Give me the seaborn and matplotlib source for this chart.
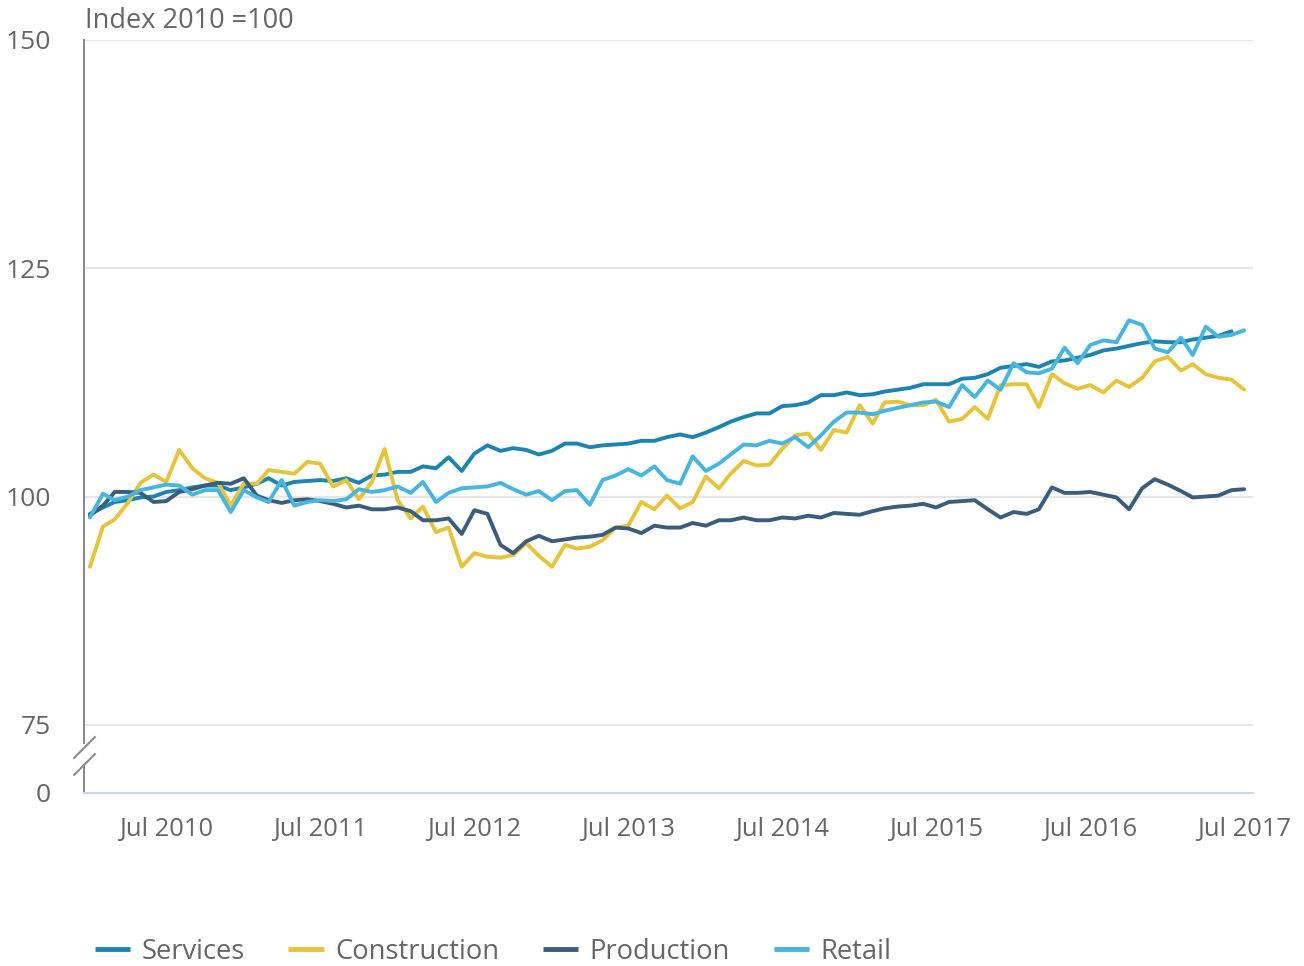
import numpy as np
import pandas as pd
import seaborn as sns
import matplotlib.pyplot as plt
import matplotlib.dates as mdates
from matplotlib.lines import Line2D

# monthly index values, Jan 2010 - Jul 2017 (2010 = 100)
months = pd.date_range("2010-01-01", "2017-07-01", freq="MS")

services = [98.1, 98.8, 99.4, 99.6, 99.9, 100.0, 100.5, 100.7, 101.0, 101.2, 101.2, 100.7,
            101.0, 101.4, 102.0, 101.2, 101.6, 101.7, 101.8, 101.7, 102.0, 101.5, 102.3, 102.4,
            102.7, 102.7, 103.3, 103.1, 104.3, 102.8, 104.7, 105.6, 105.0, 105.3, 105.1, 104.6,
            105.0, 105.8, 105.8, 105.4, 105.6, 105.7, 105.8, 106.1, 106.1, 106.5, 106.8, 106.5,
            107.0, 107.6, 108.2, 108.7, 109.1, 109.1, 109.9, 110.0, 110.3, 111.1, 111.1, 111.4,
            111.1, 111.2, 111.5, 111.7, 111.9, 112.3, 112.3, 112.3, 112.9, 113.0, 113.4, 114.1,
            114.3, 114.5, 114.2, 114.8, 114.9, 115.2, 115.5, 116.0, 116.2, 116.5, 116.8, 117.0,
            116.9, 116.9, 117.2, 117.4, 117.6, 118.1, np.nan]
construction = [92.3, 96.7, 97.5, 99.3, 101.5, 102.4, 101.6, 105.1, 103.1, 102.0, 101.5, 99.0,
                101.4, 101.4, 102.9, 102.7, 102.5, 103.8, 103.6, 101.1, 101.8, 99.7, 101.6, 105.2,
                99.6, 97.6, 98.9, 96.1, 96.6, 92.3, 93.8, 93.4, 93.3, 93.6, 94.9, 93.5,
                92.3, 94.7, 94.3, 94.5, 95.2, 96.6, 96.8, 99.4, 98.6, 100.1, 98.7, 99.4,
                102.2, 100.9, 102.5, 103.9, 103.4, 103.5, 105.2, 106.7, 106.9, 105.1, 107.3, 107.0,
                110.0, 108.0, 110.3, 110.4, 110.0, 110.0, 110.6, 108.2, 108.5, 109.8, 108.5, 112.2,
                112.3, 112.3, 109.8, 113.4, 112.4, 111.8, 112.2, 111.4, 112.7, 112.0, 113.0, 114.8,
                115.3, 113.8, 114.5, 113.4, 113.0, 112.8, 111.7]
production = [97.9, 99.0, 100.5, 100.5, 100.4, 99.4, 99.5, 100.5, 100.8, 101.2, 101.5, 101.4,
              102.0, 100.1, 99.6, 99.3, 99.6, 99.7, 99.5, 99.2, 98.8, 99.0, 98.6, 98.6,
              98.8, 98.4, 97.4, 97.4, 97.6, 95.9, 98.5, 98.1, 94.7, 93.8, 95.1, 95.7,
              95.1, 95.3, 95.5, 95.6, 95.8, 96.6, 96.5, 96.0, 96.8, 96.6, 96.6, 97.1,
              96.8, 97.4, 97.4, 97.7, 97.4, 97.4, 97.7, 97.6, 97.9, 97.7, 98.2, 98.1,
              98.0, 98.4, 98.7, 98.9, 99.0, 99.2, 98.8, 99.4, 99.5, 99.6, 98.6, 97.7,
              98.3, 98.1, 98.6, 101.0, 100.4, 100.4, 100.5, 100.2, 99.9, 98.6, 100.9, 101.9,
              101.3, 100.6, 99.9, 100.0, 100.1, 100.7, 100.8]
retail = [97.7, 100.3, 99.6, 100.0, 100.7, 101.0, 101.3, 101.2, 100.2, 100.7, 100.7, 98.3,
          100.7, 99.9, 99.4, 101.8, 99.0, 99.4, 99.6, 99.5, 99.7, 100.8, 100.5, 100.7,
          101.1, 100.4, 101.6, 99.4, 100.4, 100.9, 101.0, 101.1, 101.5, 100.8, 100.2, 100.6,
          99.6, 100.6, 100.7, 99.1, 101.8, 102.3, 103.0, 102.3, 103.3, 101.8, 101.4, 104.4,
          102.8, 103.6, 104.6, 105.7, 105.6, 106.1, 105.8, 106.5, 105.4, 106.7, 108.2, 109.2,
          109.2, 109.0, 109.4, 109.7, 110.0, 110.3, 110.4, 109.8, 112.2, 110.9, 112.7, 111.7,
          114.6, 113.6, 113.5, 114.0, 116.3, 114.6, 116.6, 117.1, 116.9, 119.3, 118.8, 116.2,
          115.8, 117.4, 115.5, 118.6, 117.5, 117.7, 118.2]

series_names = ["Services", "Construction", "Production", "Retail"]
colors = ["#1b84b3", "#e7c33a", "#3a5d7e", "#46b5e0"]
y_ticks = [75, 100, 125, 150]
x_ticks = pd.date_range("2010-07-01", "2017-07-01", freq="12MS")

df = pd.DataFrame({"date": months, "Services": services, "Construction": construction,
                   "Production": production, "Retail": retail})
long = df.melt(id_vars="date", var_name="series", value_name="value")

sns.set_style("white")
plt.rcParams["font.family"] = ["Open Sans", "DejaVu Sans"]
text_col = "#666666"
spine_col = "#8c8c8c"
axis_col = "#ccd6eb"

fig = plt.figure(figsize=(13.04, 9.66), dpi=100)
ax = fig.add_axes([0.0644, 0.2308, 0.8965, 0.7278])
ax0 = fig.add_axes([0.0644, 0.1791, 0.8965, 0.0290], sharex=ax)

sns.lineplot(data=long, x="date", y="value", hue="series", hue_order=series_names,
             palette=colors, linewidth=2.8, ax=ax, legend=False)

xlim = (pd.Timestamp("2009-12-18"), pd.Timestamp("2017-07-22"))
ax.set_xlim(xlim)
ax.set_ylim(73.0, 150)
ax.set_yticks(y_ticks)
ax.yaxis.grid(True, color="#e6e6e6", linewidth=1.5)
ax.set_axisbelow(True)
for s in ["top", "right", "bottom"]:
    ax.spines[s].set_visible(False)
ax.spines["left"].set_color(spine_col)
ax.spines["left"].set_linewidth(1.5)
ax.tick_params(axis="y", length=0, pad=24, labelsize=19, labelcolor=text_col)
ax.tick_params(axis="x", bottom=False, labelbottom=False)
ax.set_xlabel("")
ax.set_ylabel("")

ax0.set_ylim(0, 1)
ax0.set_yticks([0])
ax0.set_xticks(x_ticks)
ax0.xaxis.set_major_formatter(mdates.DateFormatter("Jul %Y"))
for s in ["top", "right"]:
    ax0.spines[s].set_visible(False)
ax0.spines["left"].set_color(spine_col)
ax0.spines["left"].set_linewidth(1.5)
ax0.spines["bottom"].set_color(axis_col)
ax0.spines["bottom"].set_linewidth(1.5)
ax0.tick_params(axis="y", length=0, pad=24, labelsize=19, labelcolor=text_col)
ax0.tick_params(axis="x", length=14.5, width=1.5, color=axis_col, pad=3,
                labelsize=18.4, labelcolor=text_col)

# axis break marks
brk = dict(marker=[(-1, -1), (1, 1)], markersize=16, linestyle="none",
           color=spine_col, mec=spine_col, mew=1.5, clip_on=False)
ax.plot([0], [-0.006], transform=ax.transAxes, **brk)
ax0.plot([0], [1.05], transform=ax0.transAxes, **brk)

fig.text(85 / 1304, 1 - 21 / 966, "Index 2010 =100", fontsize=19.5, color=text_col,
         va="center", ha="left")

handles = [Line2D([], [], color=c, linewidth=3.5, solid_capstyle="butt") for c in colors]
fig.legend(handles, series_names, loc="center left", bbox_to_anchor=(84 / 1304, 1 - 952 / 966),
           ncol=4, frameon=False, fontsize=19.7, labelcolor=text_col, handlelength=1.28,
           handletextpad=0.42, columnspacing=1.6, borderaxespad=0)

fig.savefig("out.png", dpi=100)
